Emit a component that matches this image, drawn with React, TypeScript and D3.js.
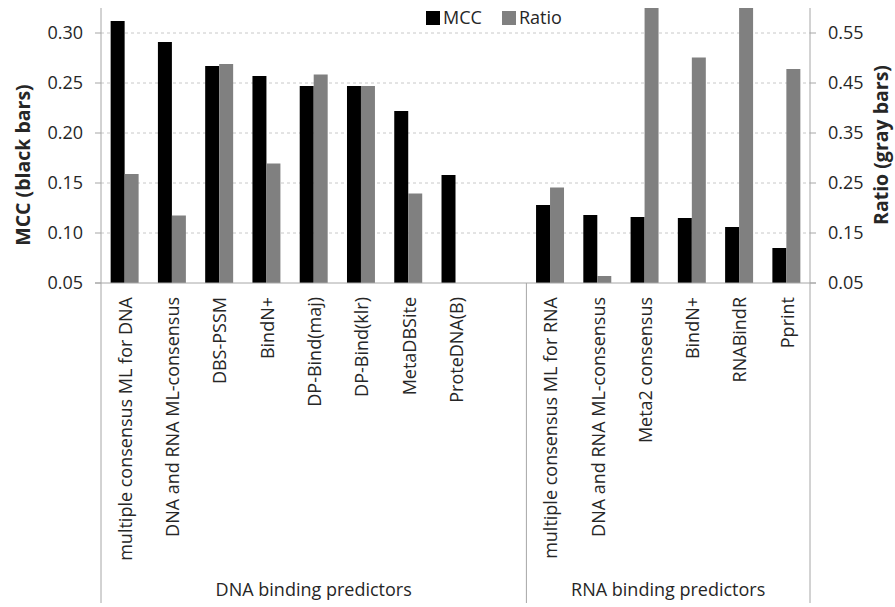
import React from 'react';
import * as d3 from 'd3';

// predictors; the empty slot separates the DNA and RNA groups
const categories = [
  'multiple consensus ML for DNA',
  'DNA and RNA ML-consensus',
  'DBS-PSSM',
  'BindN+',
  'DP-Bind(maj)',
  'DP-Bind(klr)',
  'MetaDBSite',
  'ProteDNA(B)',
  '',
  'multiple consensus ML for RNA',
  'DNA and RNA ML-consensus ',
  'Meta2 consensus',
  'BindN+ ',
  'RNABindR',
  'Pprint',
];
const mccValues = [0.312, 0.291, 0.267, 0.257, 0.247, 0.247, 0.222, 0.158, null, 0.128, 0.118, 0.116, 0.115, 0.106, 0.085];
const ratioValues = [0.268, 0.185, 0.488, 0.289, 0.467, 0.444, 0.229, null, null, 0.241, 0.064, 0.63, 0.501, 0.63, 0.478];
const groups = [
  { label: 'DNA binding predictors', from: 0, to: 9 },
  { label: 'RNA binding predictors', from: 9, to: 15 },
];
const leftTicks = [0.05, 0.1, 0.15, 0.2, 0.25, 0.3];
const rightTicks = [0.05, 0.15, 0.25, 0.35, 0.45, 0.55];
const series = ['MCC', 'Ratio'];
const colors = ['#000000', '#808080'];

const W = 895;
const H = 607;
const margin = { top: 8, right: 85, bottom: 324, left: 101 };
const font = '"Open Sans", sans-serif';

export default function App() {
  const plotW = W - margin.left - margin.right;
  const plotH = H - margin.top - margin.bottom;
  const x = d3.scaleBand().domain(categories).range([margin.left, margin.left + plotW]).padding(0);
  const x1 = d3.scaleBand().domain(series).range([0, x.bandwidth()]).paddingInner(0).paddingOuter(0.69);
  const yL = d3.scaleLinear().domain([0.05, 0.325]).range([margin.top + plotH, margin.top]).clamp(true);
  const yR = d3.scaleLinear().domain([0.05, 0.6]).range([margin.top + plotH, margin.top]).clamp(true);
  const base = margin.top + plotH;
  const xL = margin.left;
  const xR = margin.left + plotW;
  const axisColor = '#a6a6a6';

  const boundary = (i: number) => (i < categories.length ? x(categories[i])! : xR);

  return (
    <svg width={W} height={H} style={{ position: 'absolute', left: 0, top: 0, background: '#fff' }}>
      {/* grid lines */}
      {leftTicks.slice(1).map((t) => (
        <line key={t} x1={xL} x2={xR} y1={yL(t)} y2={yL(t)} stroke="#c8c8c8" strokeDasharray="3,3" />
      ))}
      {/* bars */}
      {categories.map((c, i) => (
        <g key={i}>
          {mccValues[i] != null && (
            <rect x={x(c)! + x1('MCC')!} width={x1.bandwidth()} y={yL(mccValues[i]!)} height={base - yL(mccValues[i]!)} fill={colors[0]} />
          )}
          {ratioValues[i] != null && (
            <rect x={x(c)! + x1('Ratio')!} width={x1.bandwidth()} y={yR(ratioValues[i]!)} height={base - yR(ratioValues[i]!)} fill={colors[1]} />
          )}
        </g>
      ))}
      {/* axes */}
      <line x1={xL - 6} x2={xR + 6} y1={base} y2={base} stroke={axisColor} />
      <line x1={xL} x2={xL} y1={margin.top} y2={H - 4} stroke={axisColor} />
      <line x1={xR} x2={xR} y1={margin.top} y2={H - 4} stroke={axisColor} />
      <line x1={boundary(groups[1].from)} x2={boundary(groups[1].from)} y1={base} y2={H - 4} stroke={axisColor} />
      {leftTicks.map((t) => (
        <g key={'l' + t}>
          <line x1={xL - 6} x2={xL} y1={yL(t)} y2={yL(t)} stroke={axisColor} />
          <text x={xL - 18} y={yL(t)} dy="0.35em" textAnchor="end" fontFamily={font} fontSize={18} fill="#262626">
            {d3.format('.2f')(t)}
          </text>
        </g>
      ))}
      {rightTicks.map((t) => (
        <g key={'r' + t}>
          <line x1={xR} x2={xR + 6} y1={yR(t)} y2={yR(t)} stroke={axisColor} />
          <text x={xR + 18} y={yR(t)} dy="0.35em" textAnchor="start" fontFamily={font} fontSize={18} fill="#262626">
            {d3.format('.2f')(t)}
          </text>
        </g>
      ))}
      {/* category labels */}
      {categories.map((c, i) =>
        c ? (
          <text
            key={'c' + i}
            transform={`translate(${x(c)! + x.bandwidth() / 2 + 1},${base + 14}) rotate(-90)`}
            dy="0.35em"
            textAnchor="end"
            fontFamily={font}
            fontSize={18}
            fill="#262626"
          >
            {c.trim()}
          </text>
        ) : null
      )}
      {/* group labels */}
      {groups.map((g) => (
        <text
          key={g.label}
          x={(boundary(g.from) + boundary(g.to)) / 2}
          y={H - 11}
          textAnchor="middle"
          fontFamily={font}
          fontSize={18}
          fill="#262626"
        >
          {g.label}
        </text>
      ))}
      {/* axis titles */}
      <text transform={`translate(23,${margin.top + 157}) rotate(-90)`} dy="0.35em" textAnchor="middle" fontFamily={font} fontSize={19.5} fontWeight="bold" fill="#262626">
        MCC (black bars)
      </text>
      <text transform={`translate(881,${margin.top + 137}) rotate(-90)`} dy="0.35em" textAnchor="middle" fontFamily={font} fontSize={19.5} fontWeight="bold" fill="#262626">
        Ratio (gray bars)
      </text>
      {/* legend */}
      {series.map((s, i) => (
        <g key={s} transform={`translate(${426 + i * 76},11)`}>
          <rect width={14} height={14} fill={colors[i]} />
          <text x={17} y={7} dy="0.35em" fontFamily={font} fontSize={18} fill="#262626">
            {s}
          </text>
        </g>
      ))}
    </svg>
  );
}
